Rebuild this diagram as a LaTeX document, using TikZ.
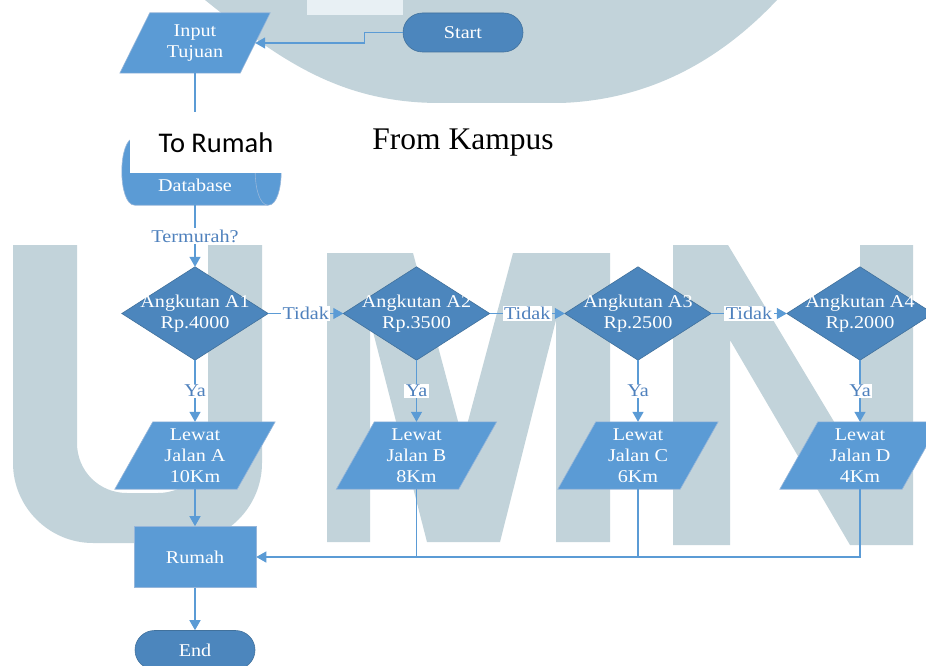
\documentclass[tikz,border=0pt]{standalone}
\usepackage{fontspec}
\setmainfont{Liberation Serif}[FakeStretch=1.12]
\newfontfamily\captionserif{Liberation Serif}
\newfontfamily\captionsans{Carlito}
\usetikzlibrary{arrows.meta,calc}

\definecolor{boxblue}{RGB}{91,155,213}
\definecolor{deepblue}{RGB}{76,134,189}
\definecolor{edgeblue}{RGB}{65,113,156}
\definecolor{lightedge}{RGB}{150,182,218}
\definecolor{labelblue}{RGB}{79,129,189}
\definecolor{markgray}{RGB}{194,211,218}
\definecolor{markpale}{RGB}{232,240,244}

\pgfdeclarelayer{mark}
\pgfdeclarelayer{fills}
\pgfsetlayers{mark,fills,main}

\tikzset{
  txt/.style={font=\fontsize{18}{21}\selectfont, align=center},
  terminal/.style={txt, rectangle, rounded corners=19.5pt, minimum width=120pt,
    minimum height=39pt, fill=deepblue, draw=edgeblue, line width=0.6pt,
    text=white, inner sep=0pt},
  iobox/.style={txt, rectangle, minimum width=#1, inner sep=0pt, text=white},
  iobox/.default=120pt,
  decision/.style={txt, rectangle, minimum width=146pt, minimum height=93pt,
    inner sep=0pt, text=white},
  process/.style={txt, rectangle, minimum width=122pt, minimum height=61pt,
    fill=boxblue, draw=lightedge, line width=0.6pt, text=white, inner sep=0pt},
  iofill/.style={fill=boxblue, draw=lightedge, line width=0.6pt},
  decfill/.style={fill=deepblue, draw=edgeblue, line width=0.6pt},
  flow/.style={draw=boxblue, line width=1.3pt, -{Triangle[length=10pt,width=11pt]}},
  plainflow/.style={draw=boxblue, line width=1.3pt},
  lab/.style={txt, fill=white, text=labelblue, inner sep=1.5pt},
}

\begin{document}
\begin{tikzpicture}[x=1pt, y=-1pt]
\useasboundingbox (0,0) rectangle (926,666);

% ---- watermark (UMN logo) ----
\begin{pgfonlayer}{mark}
  \fill[white] (0,0) rectangle (926,666);
  % arch at the top
  \fill[markgray] (205,0) .. controls (280,60) and (340,103) .. (440,103)
    -- (560,103) .. controls (660,100) and (730,50) .. (777,0) -- cycle;
  \fill[markpale] (307,0) rectangle (403,15);
  % U
  \fill[markgray] (13,245) -- (13,463) .. controls (13,507) and (49,543) .. (93,543)
    -- (182,543) .. controls (226,543) and (262,507) .. (262,463) -- (262,245)
    -- (208,245) -- (208,443) .. controls (208,471) and (186,493) .. (158,493)
    -- (127,493) .. controls (99,493) and (77,471) .. (77,443) -- (77,245) -- cycle;
  % M
  \fill[markgray] (327,253) -- (413,253) -- (463,440) -- (513,253) -- (610,253)
    -- (610,542) -- (556,542) -- (556,320) -- (500,542) -- (427,542)
    -- (370,320) -- (370,542) -- (327,542) -- cycle;
  % N
  \fill[markgray] (673,245) -- (728,245) -- (860,465) -- (860,245) -- (913,245)
    -- (913,545) -- (850,545) -- (730,340) -- (730,545) -- (673,545) -- cycle;
\end{pgfonlayer}

% ---- nodes ----
\node[terminal] (start) at (463,32.5) {Start};
\node[iobox, minimum height=60pt] (inp) at (195,43) {Input\\Tujuan};
\node[rectangle, minimum width=133pt, minimum height=67pt, inner sep=0pt] (db) at (201.5,171.5) {};

\node[decision] (a1) at (195,313.5) {Angkutan A1\\Rp.4000};
\node[decision] (a2) at (416.5,313.5) {Angkutan A2\\Rp.3500};
\node[decision] (a3) at (638,313.5) {Angkutan A3\\Rp.2500};
\node[decision] (a4) at (860,313.5) {Angkutan A4\\Rp.2000};

\node[iobox=122pt, minimum height=67pt] (la) at (195,455.5) {Lewat\\Jalan A\\10Km};
\node[iobox=122pt, minimum height=67pt] (lb) at (416.5,455.5) {Lewat\\Jalan B\\8Km};
\node[iobox=122pt, minimum height=67pt] (lc) at (638,455.5) {Lewat\\Jalan C\\6Km};
\node[iobox=122pt, minimum height=67pt] (ld) at (860,455.5) {Lewat\\Jalan D\\4Km};

\node[process] (home) at (195,557) {Rumah};
\node[terminal] (finish) at (195,650) {End};

% ---- shape bodies behind the text ----
\begin{pgfonlayer}{fills}
  \foreach \n/\s in {inp/15, la/19, lb/19, lc/19, ld/19}
    \filldraw[iofill] ([xshift=\s pt]\n.north west) -- ([xshift=\s pt]\n.north east)
      -- ([xshift=-\s pt]\n.south east) -- ([xshift=-\s pt]\n.south west) -- cycle;
  \foreach \n in {a1,a2,a3,a4}
    \filldraw[decfill] (\n.north) -- (\n.east) -- (\n.south) -- (\n.west) -- cycle;
  % database drum
  \filldraw[iofill] (db.north west) -- (db.north east)
    .. controls +(17.3,0) and +(17.3,0) .. (db.south east) -- (db.south west)
    .. controls +(-17.3,0) and +(-17.3,0) .. (db.north west) -- cycle;
  \draw[draw=lightedge, line width=0.6pt] (db.north east)
    .. controls +(-17.3,0) and +(-17.3,0) .. (db.south east);
\end{pgfonlayer}

\node[txt, text=white] (dbtext) at (195,185) {Database};

% ---- connectors ----
\draw[flow] (start.west) -- ++(-38,0) |- (inp.east);
\draw[plainflow] (inp.south) -- (inp.south |- db.north);
\draw[flow] (a1.north |- db.south) -- node[lab] {Termurah?} (a1.north);

\draw[flow] (a1.east) -- node[lab] {Tidak} (a2.west);
\draw[flow] (a2.east) -- node[lab] {Tidak} (a3.west);
\draw[flow] (a3.east) -- node[lab] {Tidak} (a4.west);

\draw[flow] (a1.south) -- node[lab] {Ya} (la.north);
\draw[flow] (a2.south) -- node[lab] {Ya} (lb.north);
\draw[flow] (a3.south) -- node[lab] {Ya} (lc.north);
\draw[flow] (a4.south) -- node[lab] {Ya} (ld.north);

\draw[flow] (la.south) -- (home.north);
\draw[flow] (ld.south) |- (home.east);
\draw[plainflow] (lc.south) -- (lc.south |- home.east);
\draw[plainflow] (lb.south) -- (lb.south |- home.east);
\draw[flow] (home.south) -- (finish.north);

% ---- captions ----
\node[font=\captionsans\fontsize{28.5}{34}\selectfont, fill=white, inner sep=0pt,
  minimum width=172pt, minimum height=61pt] (to) at (216,142.5) {To Rumah};
\node[font=\captionserif\fontsize{31.5}{38}\selectfont, inner sep=0pt] (from) at (463,143) {From Kampus};
\end{tikzpicture}
\end{document}
